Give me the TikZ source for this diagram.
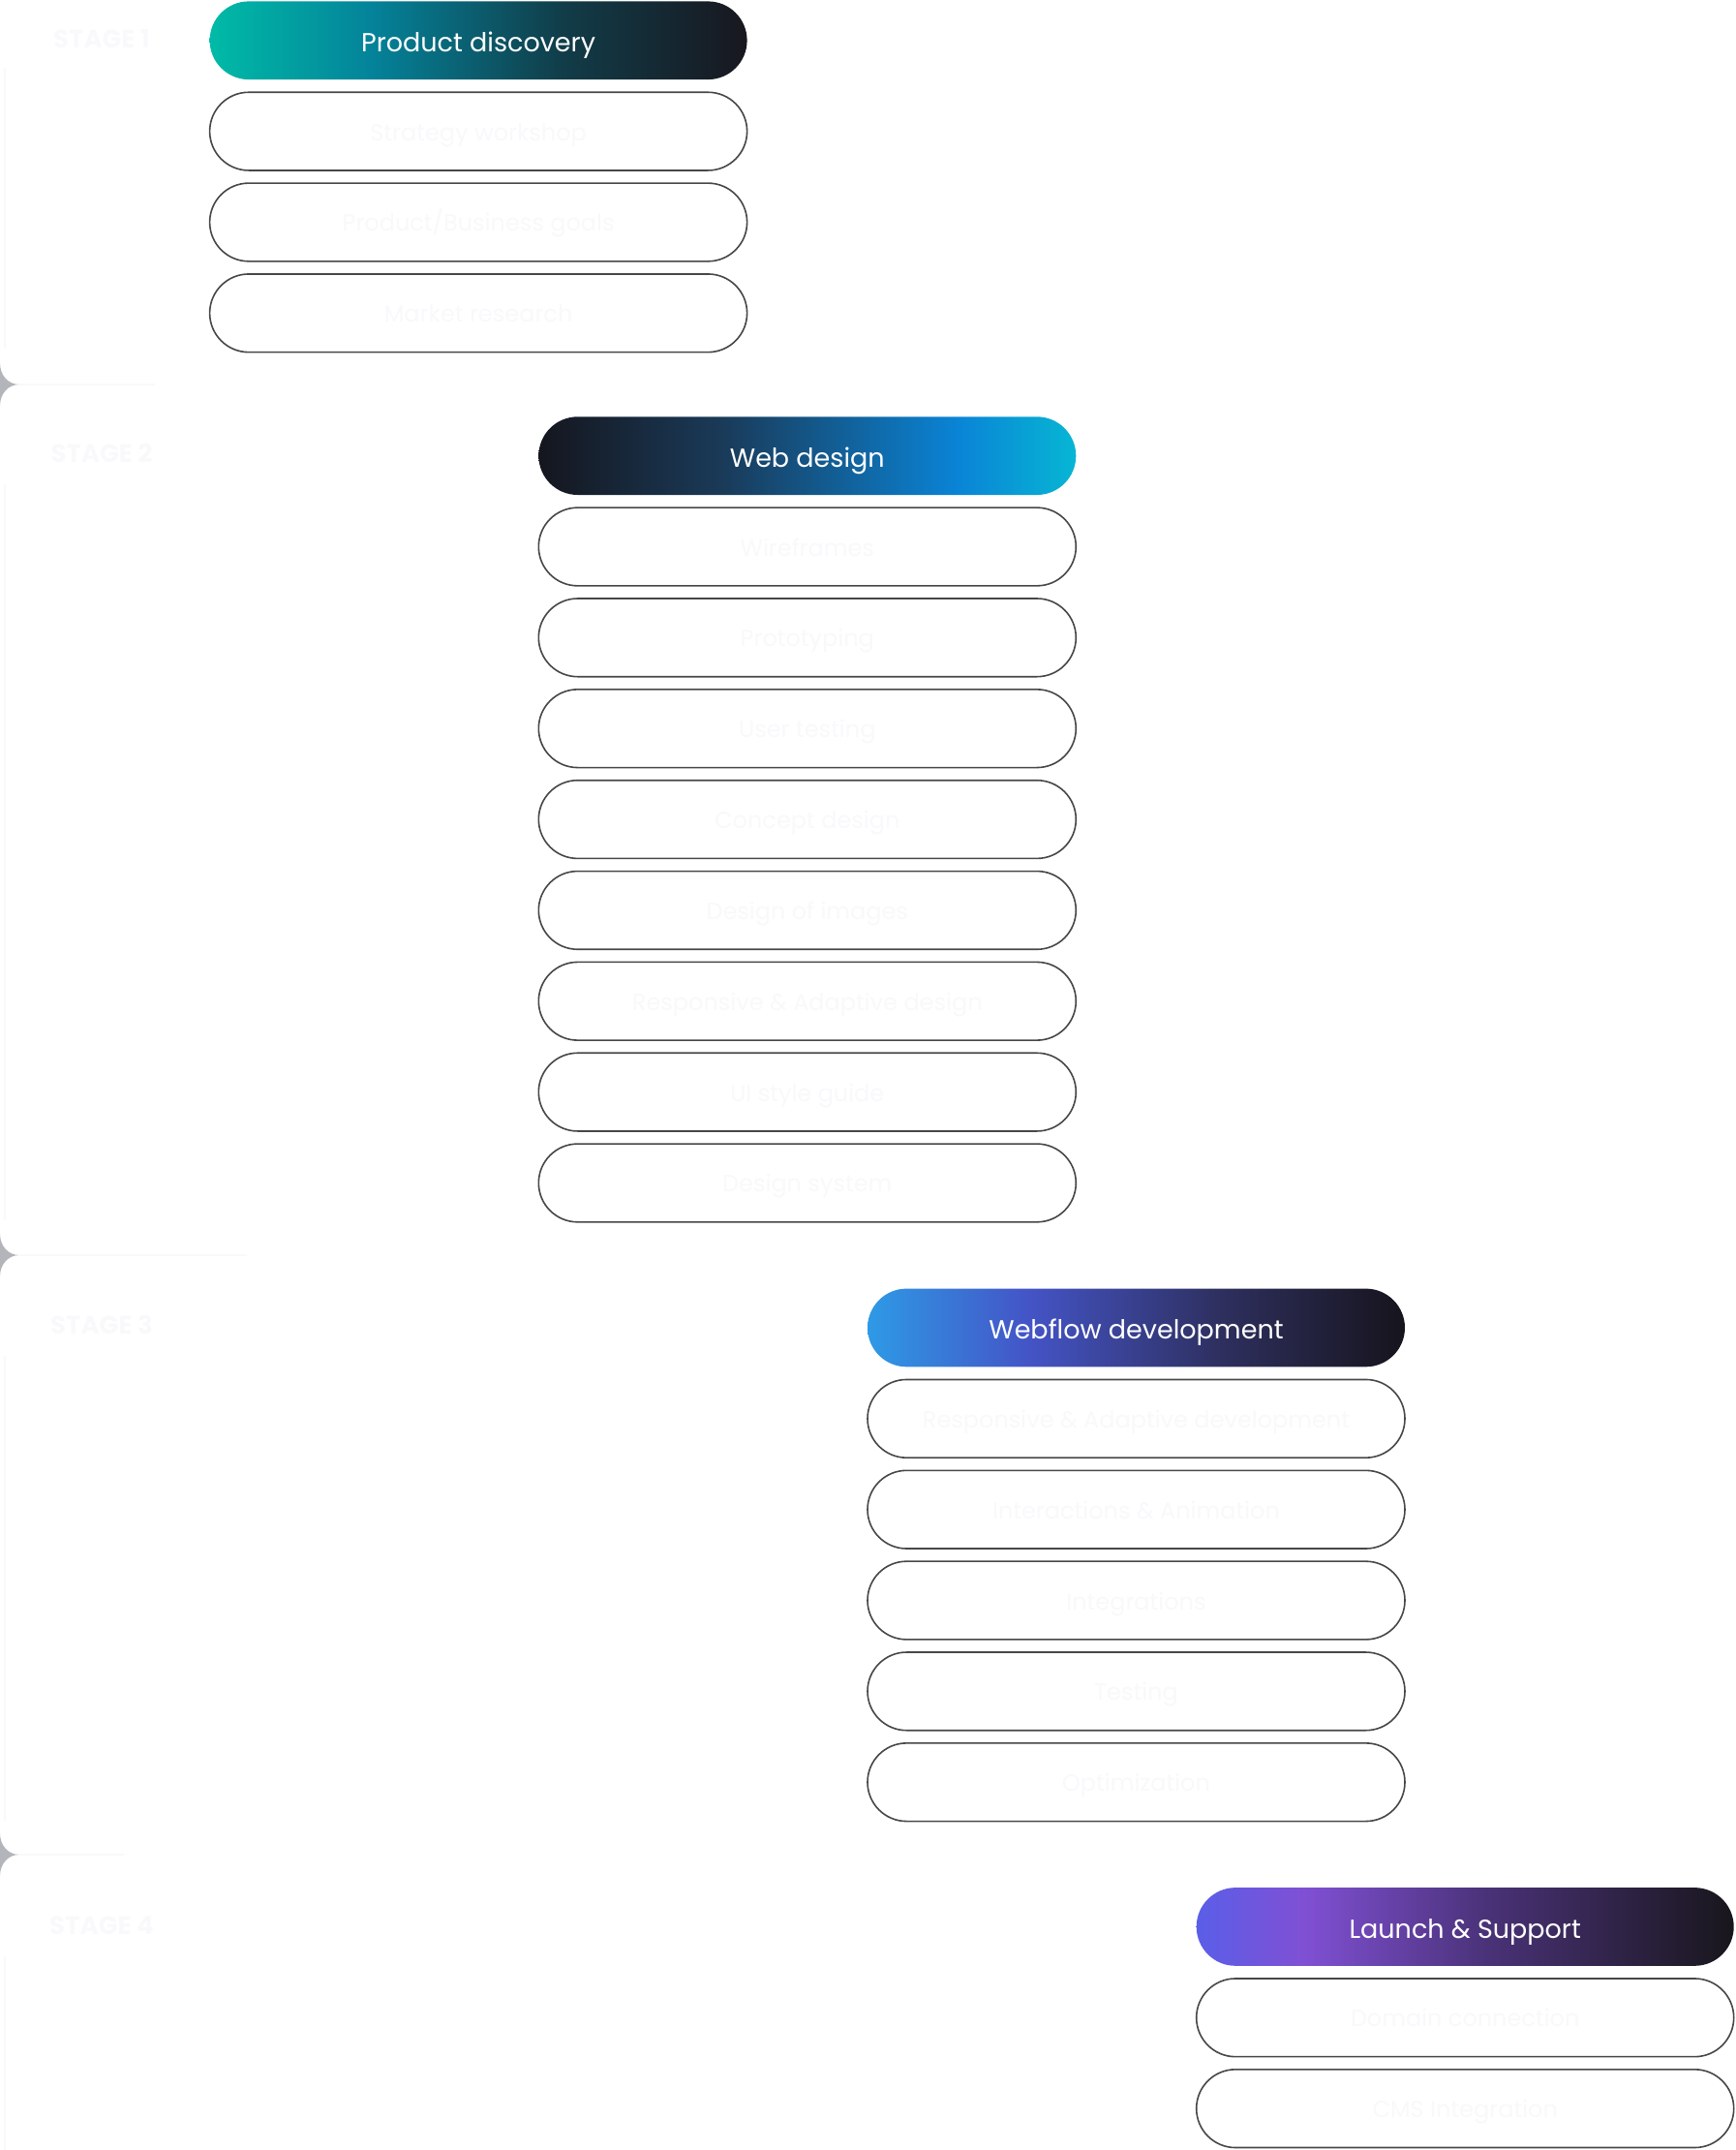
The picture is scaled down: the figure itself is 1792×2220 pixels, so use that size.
\documentclass[tikz,border=0pt]{standalone}
\usepackage{fontspec}
\setmainfont{Poppins}
\usetikzlibrary{positioning,shapes.misc}

\definecolor{pillline}{HTML}{474747}
\definecolor{faintink}{HTML}{F9F9FB}
\definecolor{stargray}{HTML}{B3B5BB}

% header gradients
\definecolor{disca}{HTML}{00BBA7}
\definecolor{discb}{HTML}{04839A}
\definecolor{discc}{HTML}{113C48}
\definecolor{discd}{HTML}{18171F}
\definecolor{weba}{HTML}{15161E}
\definecolor{webb}{HTML}{1A3A58}
\definecolor{webc}{HTML}{0A84D6}
\definecolor{webd}{HTML}{07B6D4}
\definecolor{flowa}{HTML}{2E9AE6}
\definecolor{flowb}{HTML}{4454C6}
\definecolor{flowc}{HTML}{2E2F5E}
\definecolor{flowd}{HTML}{16141C}
\definecolor{launa}{HTML}{5A5EE8}
\definecolor{launb}{HTML}{8050D4}
\definecolor{launc}{HTML}{4A3278}
\definecolor{laund}{HTML}{18161C}

\pgfdeclarehorizontalshading{discshade}{100bp}{color(0bp)=(disca); color(25bp)=(disca); color(40bp)=(discb); color(58bp)=(discc); color(75bp)=(discd); color(100bp)=(discd)}
\pgfdeclarehorizontalshading{webshade}{100bp}{color(0bp)=(weba); color(25bp)=(weba); color(42bp)=(webb); color(64bp)=(webc); color(75bp)=(webd); color(100bp)=(webd)}
\pgfdeclarehorizontalshading{flowshade}{100bp}{color(0bp)=(flowa); color(25bp)=(flowa); color(40bp)=(flowb); color(58bp)=(flowc); color(75bp)=(flowd); color(100bp)=(flowd)}
\pgfdeclarehorizontalshading{launshade}{100bp}{color(0bp)=(launa); color(25bp)=(launa); color(35bp)=(launb); color(52bp)=(launc); color(75bp)=(laund); color(100bp)=(laund)}

\tikzset{
  pill/.style={rounded rectangle, minimum width=555pt, minimum height=80.7pt,
    inner sep=0pt, outer sep=0pt, text height=19pt, text depth=0pt,
    font=\fontsize{24}{28}\selectfont},
  headpill/.style={pill, text=white, text height=24pt, font=\fontsize{27}{32}\selectfont},
  itempill/.style={pill, draw=pillline, line width=1.6pt, fill=white, text=faintink},
  stagelabel/.style={text=faintink, font=\fontsize{26}{30}\selectfont\bfseries},
  rail/.style={draw=faintink, line width=1.5pt},
}

\begin{document}
\begin{tikzpicture}[x=1pt,y=-1pt]
\useasboundingbox (0,0) rectangle (1792,2220);

% stage 1
\node[stagelabel] (stage1) at (105,40) {STAGE 1};
\node[headpill, shading=discshade] (disc) at (494.1,41.75) {Product discovery};
\node[itempill, below=13.15pt of disc] (disc1) {Strategy workshop};
\node[itempill, below=13.15pt of disc1] (disc2) {Product/Business goals};
\node[itempill, below=13.15pt of disc2] (disc3) {Market research};

% stage 2
\fill[stargray] (0,375) .. controls (0,387) and (8,397) .. (20,397) .. controls (8,397) and (0,407) .. (0,419) -- cycle;
\draw[rail] (20,397) -- (160,397);
\node[stagelabel] (stage2) at (105,468) {STAGE 2};
\node[headpill, shading=webshade] (web) at (833.8,470.65) {Web design};
\node[itempill, below=13.15pt of web] (web1) {Wireframes};
\node[itempill, below=13.15pt of web1] (web2) {Prototyping};
\node[itempill, below=13.15pt of web2] (web3) {User testing};
\node[itempill, below=13.15pt of web3] (web4) {Concept design};
\node[itempill, below=13.15pt of web4] (web5) {Design of images};
\node[itempill, below=13.15pt of web5] (web6) {Responsive \& Adaptive design};
\node[itempill, below=13.15pt of web6] (web7) {UI style guide};
\node[itempill, below=13.15pt of web7] (web8) {Design system};

% stage 3
\fill[stargray] (0,1274) .. controls (0,1286) and (8,1296) .. (20,1296) .. controls (8,1296) and (0,1306) .. (0,1318) -- cycle;
\draw[rail] (20,1296) -- (255,1296);
\node[stagelabel] (stage3) at (105,1368) {STAGE 3};
\node[headpill, shading=flowshade] (flow) at (1173.5,1370.95) {Webflow development};
\node[itempill, below=13.15pt of flow] (flow1) {Responsive \& Adaptive development};
\node[itempill, below=13.15pt of flow1] (flow2) {Interactions \& Animation};
\node[itempill, below=13.15pt of flow2] (flow3) {Integrations};
\node[itempill, below=13.15pt of flow3] (flow4) {Testing};
\node[itempill, below=13.15pt of flow4] (flow5) {Optimization};

% stage 4
\fill[stargray] (0,1893) .. controls (0,1905) and (8,1915) .. (20,1915) .. controls (8,1915) and (0,1925) .. (0,1937) -- cycle;
\draw[rail] (20,1915) -- (128,1915);
\node[stagelabel] (stage4) at (105,1988) {STAGE 4};
\node[headpill, shading=launshade] (laun) at (1513.2,1989.45) {Launch \& Support};
\node[itempill, below=13.15pt of laun] (laun1) {Domain connection};
\node[itempill, below=13.15pt of laun1] (laun2) {CMS Integration};

% left rail
\draw[rail] (5,70) -- (5,360);
\draw[rail] (5,500) -- (5,1260);
\draw[rail] (5,1400) -- (5,1880);
\draw[rail] (5,2020) -- (5,2220);
\end{tikzpicture}
\end{document}
